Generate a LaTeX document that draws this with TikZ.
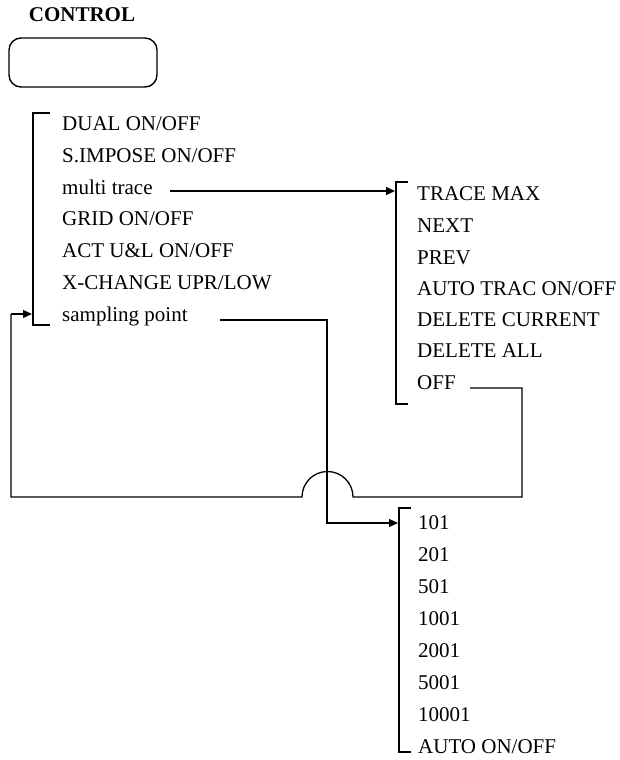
\documentclass[tikz,border=0pt]{standalone}
\usepackage{fontspec}
\setmainfont{Liberation Serif}
\usetikzlibrary{arrows.meta}
\begin{document}
\begin{tikzpicture}[x=1pt,y=-1pt,
  item/.style={anchor=base west,inner sep=0pt,font=\fontsize{21}{24}\selectfont},
  wire/.style={line width=1.3pt},
  brk/.style={line width=1.3pt},
  arr/.style={wire,-{Triangle[length=9pt,width=8pt]}}]
\useasboundingbox (0,0) rectangle (619,760);
% title and control box
\node[font=\fontsize{21}{24}\selectfont\bfseries] (title) at (82,15) {CONTROL};
\node[draw,line width=1.4pt,rounded corners=12pt,minimum width=148pt,minimum height=49pt,inner sep=0pt] (ctrl) at (83,62.5) {};
% left menu
\draw[brk] (50,113) -| (33,325) -- (50,325);
\node[item] (dual) at (62,130) {DUAL ON/OFF};
\node[item] (simp) at (62,162) {S.IMPOSE ON/OFF};
\node[item] (mt)   at (62,194) {multi trace};
\node[item] (grid) at (62,225) {GRID ON/OFF};
\node[item] (act)  at (62,257) {ACT U\&L ON/OFF};
\node[item] (xch)  at (62,289) {X-CHANGE UPR/LOW};
\node[item] (samp) at (62,321) {sampling point};
% trace menu
\draw[brk] (408,182) -| (396,404) -- (408,404);
\node[item] (tmax) at (417,200) {TRACE MAX};
\node[item] (next) at (417,232) {NEXT};
\node[item] (prev) at (417,264) {PREV};
\node[item] (atr)  at (417,295) {AUTO TRAC ON/OFF};
\node[item] (dcur) at (417,326) {DELETE CURRENT};
\node[item] (dall) at (417,357) {DELETE ALL};
\node[item] (off)  at (417,389) {OFF};
% sampling menu
\draw[brk] (411,508) -| (399,752) -- (411,752);
\node[item] (s101)   at (418,529) {101};
\node[item] (s201)   at (418,561) {201};
\node[item] (s501)   at (418,593) {501};
\node[item] (s1001)  at (418,625) {1001};
\node[item] (s2001)  at (418,657) {2001};
\node[item] (s5001)  at (418,689) {5001};
\node[item] (s10001) at (418,721) {10001};
\node[item] (sauto)  at (418,753) {AUTO ON/OFF};
% connector points
\coordinate (mtA) at (170,191);
\coordinate (mtB) at (395,191);
\coordinate (offA) at (470,388);
\coordinate (offC) at (522,497);
\coordinate (hopR) at (353,497);
\coordinate (hopL) at (302,497);
\coordinate (retC) at (11,314);
\coordinate (retB) at (32,314);
\coordinate (spA) at (220,320);
\coordinate (spC) at (327,523);
\coordinate (spB) at (398,523);
% connectors
\draw[arr] (mtA) -- (mtB);
\draw[wire] (offA) -| (offC) -- (hopR) arc[start angle=0,end angle=180,radius=25.5pt] -- (hopL) -| (retC);
\draw[arr] (retC) -- (retB);
\draw[arr] (spA) -| (spC) -- (spB);
\end{tikzpicture}
\end{document}
